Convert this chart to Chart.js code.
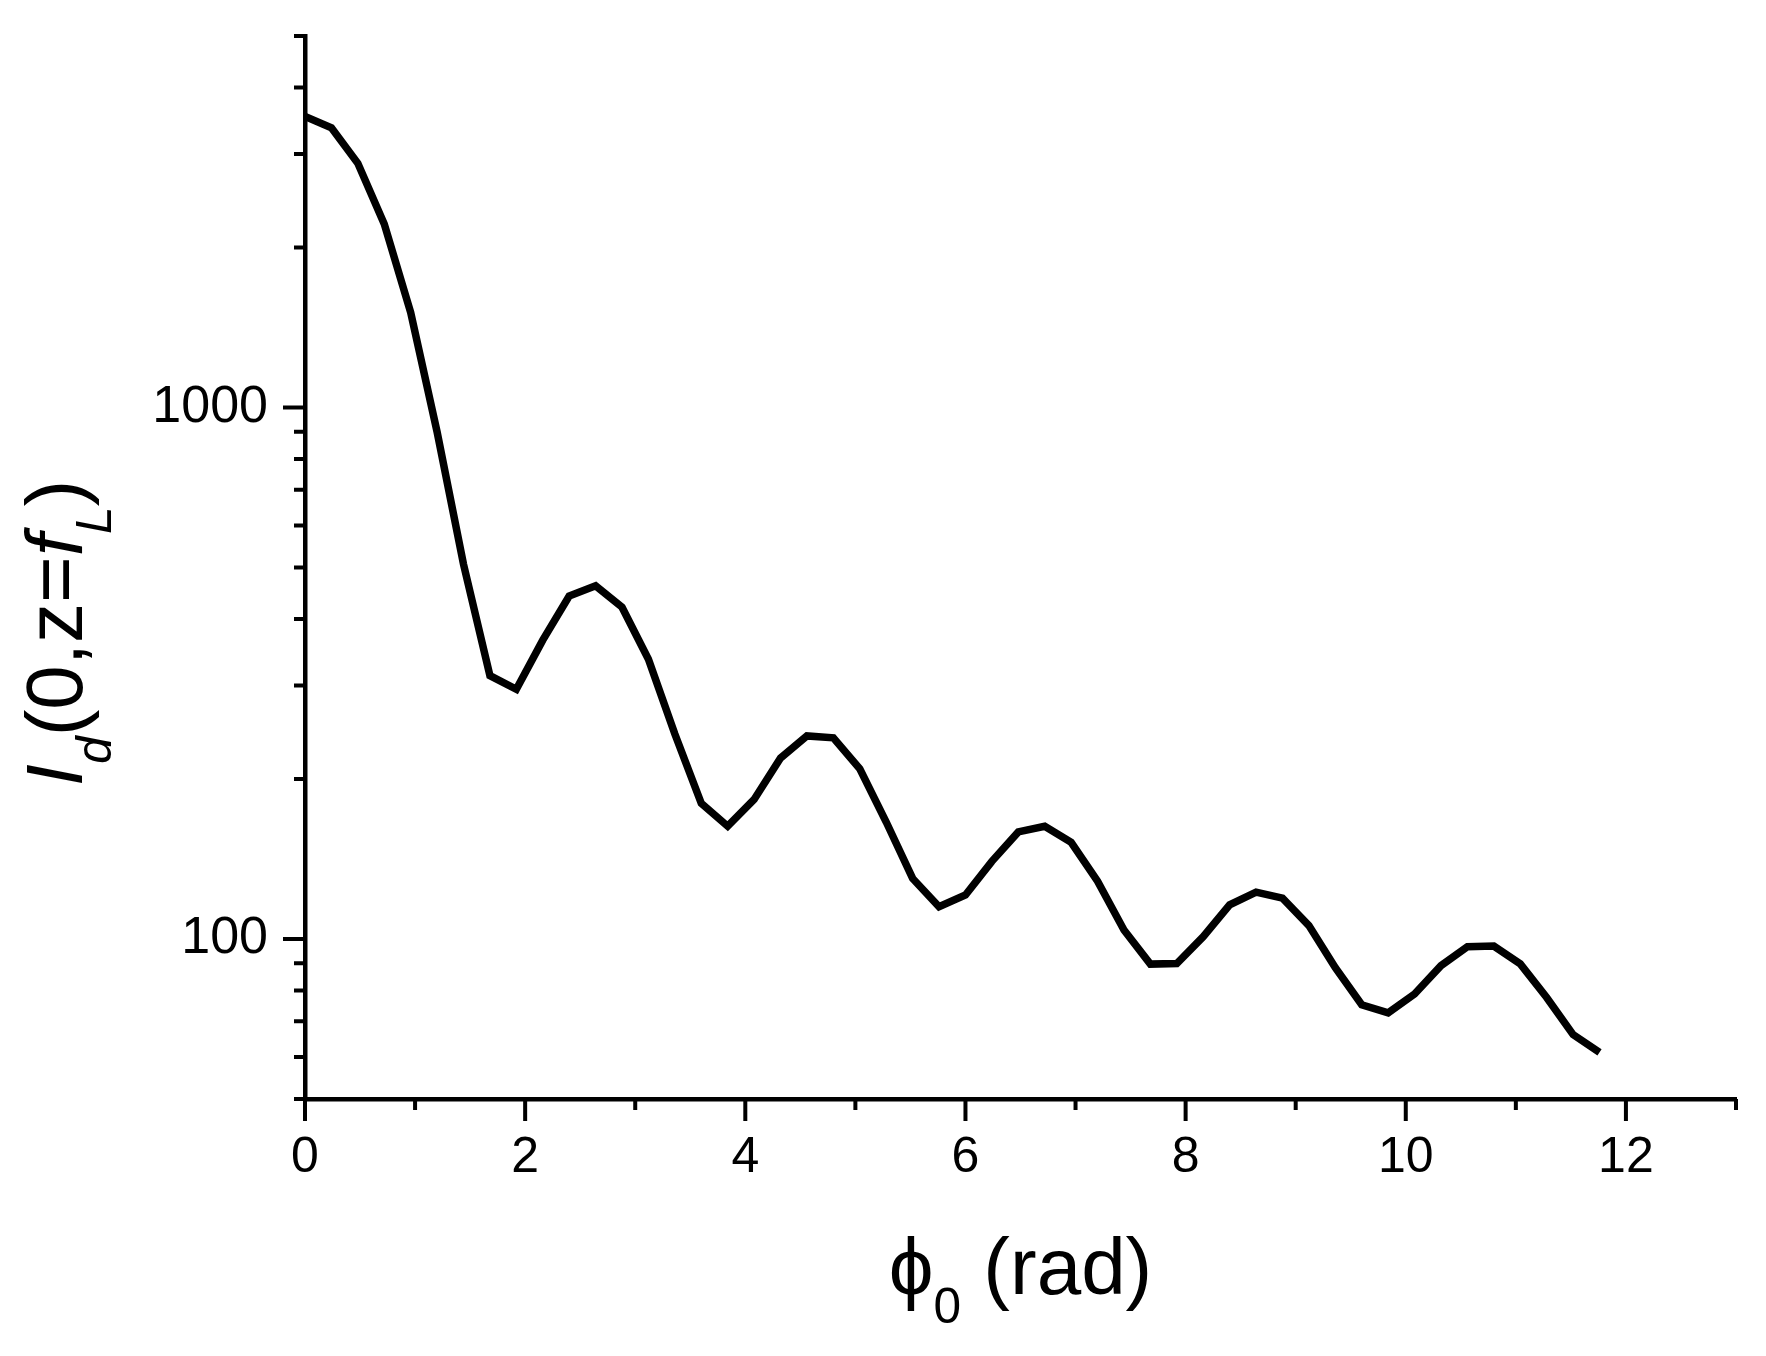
<!DOCTYPE html>
<html lang="en">
<head>
  <meta charset="UTF-8" />
  <title>I_d(0,z=f_L) vs phi_0</title>
  <style>
    body {
      margin: 0;
      background: #fff;
    }
    .chart-box {
      width: 1766px;
      height: 1356px;
    }
  </style>
</head>
<body>
  <div class="chart-box">
    <canvas id="phaseChart"></canvas>
  </div>

  <script src="https://cdn.jsdelivr.net/npm/chart.js"></script>
  <script>
    // phase phi_0 (rad)
    const phi = [
      0, 0.24, 0.48, 0.72, 0.96, 1.20, 1.44, 1.68, 1.92, 2.16,
      2.40, 2.64, 2.88, 3.12, 3.36, 3.60, 3.84, 4.08, 4.32, 4.56,
      4.80, 5.04, 5.28, 5.52, 5.76, 6.00, 6.24, 6.48, 6.72, 6.96,
      7.20, 7.44, 7.68, 7.92, 8.16, 8.40, 8.64, 8.88, 9.12, 9.36,
      9.60, 9.84, 10.08, 10.32, 10.56, 10.80, 11.04, 11.28, 11.52, 11.76
    ];
    // on-axis intensity at the focal plane
    const intensity = [
      3530, 3360, 2880, 2215, 1510, 900, 507, 313, 295, 365,
      442, 462, 421, 336, 243, 180, 163, 183, 219, 241,
      239, 209, 166, 130, 115, 121, 140, 159, 163, 152,
      128.5, 104, 89.7, 89.9, 101, 116, 122.5, 119.4, 106, 88.3,
      75.2, 72.6, 78.8, 89.1, 96.7, 97.0, 89.8, 77.6, 66.1, 61.2
    ];

    const yTicks = [50, 60, 70, 80, 90, 100, 200, 300, 400, 500, 600, 700, 800, 900, 1000, 2000, 3000, 4000, 5000];
    const yLabeled = [100, 1000];
    const xLabeled = [0, 2, 4, 6, 8, 10, 12];

    const FONT = "'Liberation Sans', Arial, sans-serif";
    const MAJOR_LEN = 22;
    const MINOR_LEN = 11;

    // short/long tick marks pointing outwards
    const tickMarks = {
      id: 'tickMarks',
      afterDraw(chart) {
        const ctx = chart.ctx;
        const area = chart.chartArea;
        const xs = chart.scales.x;
        const ys = chart.scales.y;
        ctx.save();
        ctx.strokeStyle = '#000';
        ctx.lineWidth = 4;
        ctx.beginPath();
        xs.ticks.forEach(t => {
          const px = xs.getPixelForValue(t.value);
          const len = t.label ? MAJOR_LEN : MINOR_LEN;
          ctx.moveTo(px, area.bottom);
          ctx.lineTo(px, area.bottom + len);
        });
        ys.ticks.forEach(t => {
          const py = ys.getPixelForValue(t.value);
          const len = t.label ? MAJOR_LEN : MINOR_LEN;
          ctx.moveTo(area.left, py);
          ctx.lineTo(area.left - len, py);
        });
        ctx.stroke();
        ctx.restore();
      }
    };

    // draw text pieces with italics and subscripts
    function richWidth(ctx, parts, size) {
      let w = 0;
      parts.forEach(p => {
        const s = p.sub ? size * 0.62 : size;
        ctx.font = (p.it ? 'italic ' : '') + s + 'px ' + FONT;
        w += ctx.measureText(p.t).width;
      });
      return w;
    }
    function drawRich(ctx, parts, size, x, y) {
      parts.forEach(p => {
        const s = p.sub ? size * 0.62 : size;
        ctx.font = (p.it ? 'italic ' : '') + s + 'px ' + FONT;
        ctx.fillText(p.t, x, p.sub ? y + size * 0.36 : y);
        x += ctx.measureText(p.t).width;
      });
    }

    const xTitle = [{ t: 'ϕ' }, { t: '0', sub: true }, { t: ' (rad)' }];
    const yTitle = [
      { t: 'I', it: true }, { t: 'd', it: true, sub: true }, { t: '(0,z=' },
      { t: 'f', it: true }, { t: 'L', it: true, sub: true }, { t: ')' }
    ];

    const axisTitles = {
      id: 'axisTitles',
      afterDraw(chart) {
        const ctx = chart.ctx;
        const area = chart.chartArea;
        const size = 80;
        ctx.save();
        ctx.fillStyle = '#000';
        ctx.textBaseline = 'alphabetic';
        ctx.textAlign = 'left';
        const wx = richWidth(ctx, xTitle, size);
        drawRich(ctx, xTitle, size, (area.left + area.right) / 2 - wx / 2, 1294);

        const wy = richWidth(ctx, yTitle, size);
        ctx.translate(82, 633);
        ctx.rotate(-Math.PI / 2);
        drawRich(ctx, yTitle, size, -wy / 2, 0);
        ctx.restore();
      }
    };

    new Chart(document.getElementById('phaseChart'), {
      type: 'line',
      data: {
        datasets: [{
          data: phi.map((p, i) => ({ x: p, y: intensity[i] })),
          borderColor: '#000',
          borderWidth: 7.5,
          pointRadius: 0,
          tension: 0,
          fill: false
        }]
      },
      options: {
        responsive: true,
        maintainAspectRatio: false,
        animation: false,
        layout: { padding: { left: 0, right: 30, top: 36, bottom: 0 } },
        plugins: {
          legend: { display: false },
          tooltip: { enabled: false }
        },
        scales: {
          x: {
            type: 'linear',
            min: 0,
            max: 13,
            afterFit(s) {
              s.height = 257;
              s.paddingLeft = 0;
              s.paddingRight = 0;
            },
            ticks: {
              stepSize: 1,
              autoSkip: false,
              maxRotation: 0,
              color: '#000',
              padding: 7,
              font: { family: FONT, size: 50 },
              callback: v => xLabeled.includes(v) ? String(v) : ''
            },
            grid: { drawOnChartArea: false, drawTicks: true, tickLength: MAJOR_LEN, color: 'rgba(0,0,0,0)' },
            border: { display: true, color: '#000', width: 4.5 }
          },
          y: {
            type: 'logarithmic',
            min: 50,
            max: 5000,
            afterFit(s) {
              s.width = 305;
              s.paddingTop = 0;
              s.paddingBottom = 0;
            },
            afterBuildTicks(s) { s.ticks = yTicks.map(v => ({ value: v })); },
            ticks: {
              autoSkip: false,
              color: '#000',
              padding: 15,
              font: { family: FONT, size: 52 },
              callback: v => yLabeled.includes(v) ? String(v) : ''
            },
            grid: { drawOnChartArea: false, drawTicks: true, tickLength: MAJOR_LEN, color: 'rgba(0,0,0,0)' },
            border: { display: true, color: '#000', width: 4.5 }
          }
        }
      },
      plugins: [tickMarks, axisTitles]
    });
  </script>
</body>
</html>
